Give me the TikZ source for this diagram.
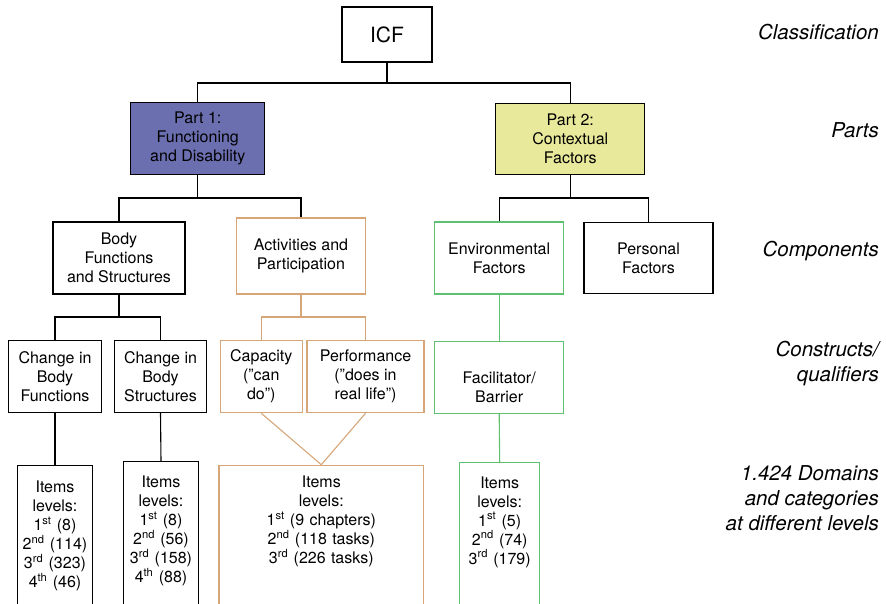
\documentclass[tikz,border=0pt]{standalone}
\usepackage{fontspec}
\setmainfont{TeX Gyre Heros}
\definecolor{partone}{RGB}{107,111,176}
\definecolor{parttwo}{RGB}{232,233,154}
\definecolor{actcol}{RGB}{214,166,120}
\definecolor{envcol}{RGB}{96,192,114}
\begin{document}
\begin{tikzpicture}[x=1pt,y=-1pt,
  box/.style={draw,line width=1.1pt,inner sep=0pt,align=center,
    font=\fontsize{16}{19}\selectfont},
  items/.style={box,anchor=north,inner xsep=0pt,text width=#1,text depth=170pt},
  link/.style={line width=1.1pt},
  tier/.style={anchor=east,inner sep=0pt,align=right,
    font=\fontsize{20.5}{25}\selectfont\itshape}]
  \useasboundingbox (0,0) rectangle (886,603);
  \clip (0,0) rectangle (886,603);
  \def\h{72pt}

  %%% Classification
  \node[box,minimum width=90pt,minimum height=55pt,font=\fontsize{21}{25}\selectfont] (icf) at (387,34.5) {ICF};

  %%% Parts
  \node[box,fill=partone,minimum width=134pt,minimum height=\h] (part1) at (197.8,138.3) {Part 1:\\Functioning\\and Disability};
  \node[box,fill=parttwo,minimum width=149pt,minimum height=71pt] (part2) at (570.3,138.7) {Part 2:\\Contextual\\Factors};

  %%% Components
  \node[box,minimum width=132pt,minimum height=\h] (bodyfs) at (119,258) {Body\\Functions\\and Structures};
  \node[box,draw=actcol,minimum width=128.5pt,minimum height=76pt] (actpart) at (301,256) {Activities and\\Participation};
  \node[box,draw=envcol,minimum width=129pt,minimum height=\h] (envf) at (499.2,258) {Environmental\\Factors};
  \node[box,minimum width=129pt,minimum height=71pt] (persf) at (648.5,258) {Personal\\Factors};

  %%% Constructs
  \node[box,minimum width=92.6pt,minimum height=\h] (chbf) at (55,376.5) {Change in\\Body\\Functions};
  \node[box,minimum width=92.4pt,minimum height=\h] (chbs) at (160.5,376.5) {Change in\\Body\\Structures};
  \node[box,draw=actcol,minimum width=82pt,minimum height=\h] (cap) at (261.3,376.7) {Capacity\\(”can\\do”)};
  \node[box,draw=actcol,minimum width=117pt,minimum height=\h] (perf) at (365.5,376.7) {Performance\\(”does in\\real life”)};
  \node[box,draw=envcol,minimum width=129pt,minimum height=\h] (facil) at (499.2,377.2) {\strut\\Facilitator/\\Barrier};

  %%% Items
  \node[items=75.7pt,inner ysep=16pt] (bfitems) at (55,464.7) {Items\\levels:\\1\textsuperscript{st} (8)\\2\textsuperscript{nd} (114)\\3\textsuperscript{rd} (323)\\4\textsuperscript{th} (46)};
  \node[items=75.7pt,inner ysep=14pt] (bsitems) at (161,461.3) {Items\\levels:\\1\textsuperscript{st} (8)\\2\textsuperscript{nd} (56)\\3\textsuperscript{rd} (158)\\4\textsuperscript{th} (88)};
  \node[items=204.7pt,draw=actcol,inner ysep=11pt] (apitems) at (321.3,464.7) {Items\\levels:\\1\textsuperscript{st} (9 chapters)\\2\textsuperscript{nd} (118 tasks)\\3\textsuperscript{rd} (226 tasks)};
  \node[items=80pt,draw=envcol,inner ysep=14pt] (envitems) at (499.7,462) {Items\\levels:\\1\textsuperscript{st} (5)\\2\textsuperscript{nd} (74)\\3\textsuperscript{rd} (179)};

  %%% connectors
  \coordinate (top) at (0,83);
  \coordinate (mid) at (0,198);
  \coordinate (low) at (0,317);
  \draw[link] (icf.south) -- (icf.south |- top);
  \draw[link] (part1.north) |- (part2.north |- top) -- (part2.north);
  \draw[link] (part1.south) -- (part1.south |- mid);
  \draw[link] (bodyfs.north) |- (actpart.north |- mid) -- (actpart.north);
  \draw[link] (part2.south) -- (part2.south |- mid);
  \draw[link] (envf.north) |- (persf.north |- mid) -- (persf.north);
  \draw[link] (bodyfs.south) -- (bodyfs.south |- low);
  \draw[link] (chbf.north) |- (chbs.north |- low) -- (chbs.north);
  \draw[link,actcol] (actpart.south) -- (actpart.south |- low);
  \draw[link,actcol] (cap.north) |- (perf.north |- low) -- (perf.north);
  \draw[link,envcol] (envf.south) -- (facil.north);
  \draw[link] (chbf.south) -- (bfitems.north);
  \draw[link] (chbs.south) -- (bsitems.north);
  \draw[link,actcol] (cap.south) -- (apitems.north) -- (perf.south);
  \draw[link,envcol] (facil.south) -- (envitems.north);

  %%% levels
  \node[tier] (classif) at (879,32) {Classification};
  \node[tier] (parts) at (879,130) {Parts};
  \node[tier] (compo) at (879,251) {Components};
  \node[tier] (constr) at (879,364) {Constructs/\\qualifiers};
  \node[tier] (domains) at (879,498) {1.424 Domains\\and categories\\at different levels};
\end{tikzpicture}
\end{document}
